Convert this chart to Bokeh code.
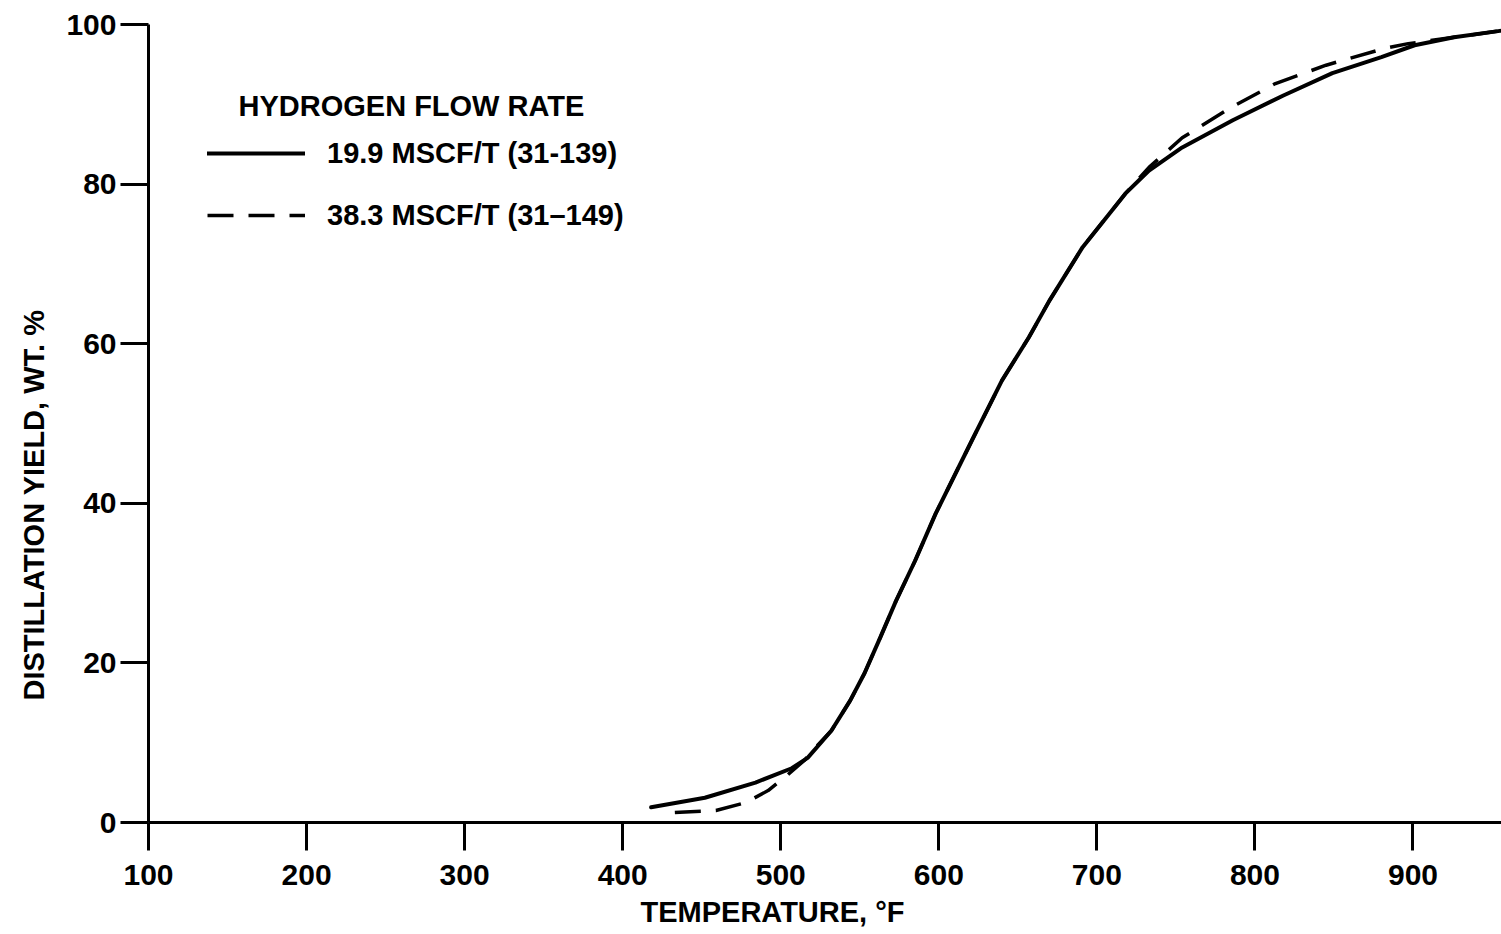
from bokeh.plotting import figure
from bokeh.models import (Range1d, FixedTicker, Label, Legend, LegendItem, ColumnDataSource, Title)
from bokeh.embed import file_html
from bokeh.resources import INLINE

# --- data ---
temp_solid = [418, 452, 484, 507, 517, 532, 544, 553, 563, 573, 585, 598, 621, 640, 657, 670,
              691, 718, 733, 754, 786, 818, 849, 880, 901, 926, 955]
yield_solid = [1.9, 3.1, 5.0, 6.8, 8.1, 11.5, 15.3, 18.7, 23.2, 27.8, 32.8, 38.7, 47.9, 55.4, 60.8, 65.4,
               72.1, 78.8, 81.7, 84.6, 88.0, 91.1, 93.9, 95.9, 97.4, 98.4, 99.2]

temp_dash = [433, 459, 478, 492, 504, 515, 523, 532, 544, 553, 563, 573, 585, 598, 621, 640, 657, 670,
             691, 718, 733, 754, 784, 813, 845, 882, 897, 926, 955]
yield_dash = [1.25, 1.5, 2.5, 4.0, 5.9, 7.8, 9.6, 11.5, 15.3, 18.7, 23.2, 27.8, 32.8, 38.7, 47.9, 55.4, 60.8, 65.4,
              72.1, 78.8, 82.1, 85.8, 89.5, 92.6, 94.9, 97.0, 97.6, 98.4, 99.2]

x_ticks = [100, 200, 300, 400, 500, 600, 700, 800, 900]
y_ticks = [0, 20, 40, 60, 80, 100]

series_names = ["19.9 MSCF/T (31-139)", "38.3 MSCF/T (31\u2013149)"]
legend_title = "HYDROGEN FLOW RATE"
x_title = "TEMPERATURE, \u00b0F"
y_title = "DISTILLATION YIELD, WT. %"

FONT = "Liberation Sans"

p = figure(width=1501, height=934, output_backend="svg", toolbar_location=None,
           x_range=Range1d(100, 956), y_range=Range1d(0, 100),
           min_border_left=148, min_border_right=0, min_border_top=24, min_border_bottom=112)
p.outline_line_color = None
p.xgrid.visible = False
p.ygrid.visible = False
p.background_fill_color = "white"
p.border_fill_color = "white"

for ax in (p.xaxis[0], p.yaxis[0]):
    ax.axis_line_width = 3
    ax.axis_line_color = "black"
    ax.major_tick_line_width = 3
    ax.major_tick_line_color = "black"
    ax.major_tick_out = 28
    ax.major_tick_in = 0
    ax.minor_tick_line_color = None
    ax.major_label_text_font = FONT
    ax.major_label_text_font_style = "bold"
    ax.major_label_text_font_size = "30px"
    ax.major_label_text_color = "black"

p.xaxis[0].ticker = FixedTicker(ticks=x_ticks)
p.yaxis[0].ticker = FixedTicker(ticks=y_ticks)
p.xaxis[0].major_label_standoff = 14
p.yaxis[0].major_label_standoff = 4

src_s = ColumnDataSource(dict(x=temp_solid, y=yield_solid))
src_d = ColumnDataSource(dict(x=temp_dash, y=yield_dash))
r1 = p.line("x", "y", source=src_s, line_width=4, line_color="black", line_join="round", line_cap="round")
r2 = p.line("x", "y", source=src_d, line_width=3.5, line_color="black", line_dash="26 15")

legend = Legend(items=[LegendItem(label=series_names[0], renderers=[r1]),
                       LegendItem(label=series_names[1], renderers=[r2])],
                location=(59, 589), orientation="vertical",
                border_line_color=None, background_fill_alpha=0,
                padding=0, margin=0, spacing=26,
                glyph_width=98, glyph_height=36, label_height=36,
                label_standoff=22,
                label_text_font=FONT, label_text_font_style="bold",
                label_text_font_size="29px", label_text_color="black")
p.add_layout(legend)

p.add_layout(Label(x=90, y=717, x_units="screen", y_units="screen", text=legend_title,
                   text_font=FONT, text_font_style="bold", text_font_size="29px",
                   text_baseline="middle", text_align="left", text_color="black"))

xt = Title(text=x_title, align="left", offset=492, standoff=12,
           text_font=FONT, text_font_style="bold", text_font_size="29px", text_color="black")
p.add_layout(xt, "below")
yt = Title(text=y_title, align="left", offset=122, standoff=27,
           text_font=FONT, text_font_style="bold", text_font_size="29px", text_color="black")
p.add_layout(yt, "left")

open("out.html", "w").write(file_html(p, INLINE))
